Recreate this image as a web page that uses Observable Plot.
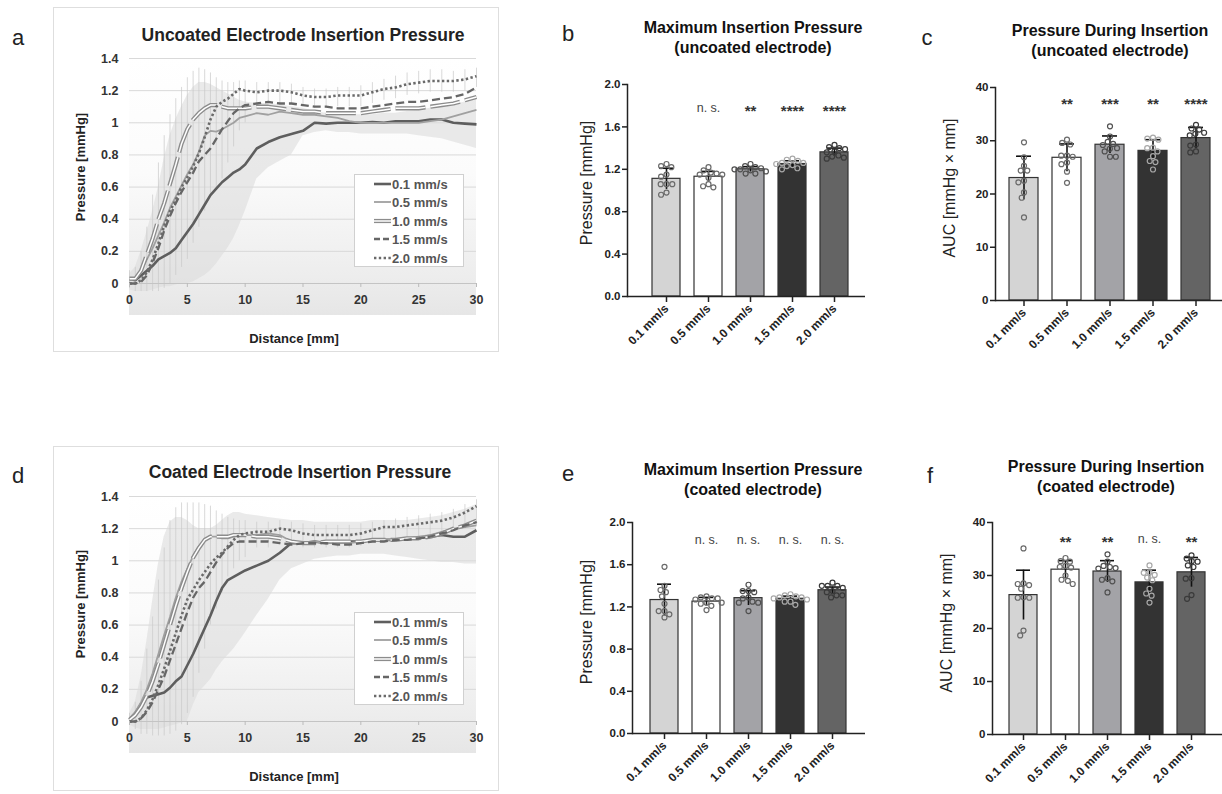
<!DOCTYPE html>
<html><head><meta charset="utf-8">
<script src="https://cdn.jsdelivr.net/npm/d3@7"></script>
<script src="https://cdn.jsdelivr.net/npm/@observablehq/plot@0.6"></script>
<style>
body{margin:0;background:#fff;font-family:"Liberation Sans",Arial,Helvetica,sans-serif;}
#root{position:relative;width:1222px;height:794px;overflow:hidden;background:#fff;}
</style></head><body><div id="root"></div>
<script>
// ---------- DATA ----------
const speeds = ["0.1 mm/s","0.5 mm/s","1.0 mm/s","1.5 mm/s","2.0 mm/s"];
const distance = [0,0.5,1,1.5,2,2.5,3,3.5,4,4.5,5,5.5,6,6.5,7,7.5,8,8.5,9,9.5,10,11,12,13,14,15,16,17,18,19,20,21,22,23,24,25,26,27,28,29,30];
const xTicksLine = [0,5,10,15,20,25,30];
const yTicksLine = [0,0.2,0.4,0.6,0.8,1,1.2,1.4];

// Uncoated electrode (panel a)
const unc01 = [0.03,0.02,0.05,0.08,0.11,0.15,0.17,0.19,0.22,0.27,0.32,0.37,0.43,0.49,0.55,0.59,0.63,0.66,0.69,0.71,0.74,0.84,0.88,0.91,0.93,0.95,1.0,0.995,1.0,1.0,1.0,1.005,1.0,1.01,1.01,1.01,1.02,1.02,1.0,0.995,0.99];
const unc05 = [0.02,0.03,0.08,0.15,0.22,0.30,0.38,0.47,0.54,0.61,0.68,0.74,0.82,0.92,0.95,0.945,0.96,0.98,1.0,1.03,1.04,1.06,1.05,1.07,1.06,1.05,1.05,1.04,1.03,1.01,1.0,1.0,1.0,1.0,1.0,1.0,1.01,1.02,1.04,1.06,1.08];
const unc10 = [0.03,0.03,0.08,0.18,0.28,0.40,0.50,0.62,0.74,0.87,0.96,1.02,1.06,1.09,1.11,1.11,1.10,1.09,1.09,1.09,1.09,1.10,1.10,1.09,1.08,1.07,1.07,1.06,1.06,1.06,1.06,1.07,1.08,1.09,1.09,1.09,1.10,1.11,1.12,1.14,1.16];
const unc15 = [0.0,0.0,0.01,0.05,0.13,0.22,0.33,0.42,0.50,0.57,0.63,0.69,0.76,0.80,0.84,0.90,0.96,1.01,1.06,1.09,1.11,1.12,1.13,1.12,1.12,1.11,1.10,1.10,1.09,1.09,1.09,1.10,1.11,1.12,1.13,1.13,1.14,1.15,1.16,1.18,1.22];
const unc20 = [0.0,0.0,0.02,0.07,0.15,0.25,0.36,0.45,0.52,0.60,0.66,0.73,0.81,0.91,1.02,1.10,1.13,1.15,1.18,1.21,1.20,1.19,1.20,1.20,1.19,1.17,1.16,1.16,1.17,1.17,1.17,1.19,1.21,1.22,1.24,1.25,1.26,1.26,1.26,1.27,1.29];
const uncBandLo = [-0.04,-0.05,-0.05,-0.05,-0.04,-0.03,-0.02,-0.02,-0.01,0.0,0.0,0.01,0.03,0.05,0.08,0.12,0.17,0.22,0.28,0.36,0.45,0.65,0.72,0.76,0.80,0.92,0.94,0.95,0.94,0.94,0.93,0.93,0.93,0.93,0.93,0.92,0.91,0.90,0.88,0.86,0.84];
const uncBandHi = [0.06,0.10,0.20,0.32,0.45,0.60,0.78,0.92,1.02,1.10,1.17,1.22,1.25,1.25,1.24,1.22,1.20,1.18,1.16,1.14,1.13,1.12,1.12,1.11,1.10,1.09,1.07,1.06,1.05,1.05,1.05,1.05,1.06,1.06,1.07,1.08,1.09,1.10,1.11,1.13,1.15];
const uncErrHi = [0.08,0.10,0.20,0.35,0.55,0.75,0.92,1.05,1.15,1.22,1.28,1.32,1.34,1.33,1.31,1.28,1.26,1.25,1.25,1.26,1.26,1.25,1.25,1.25,1.24,1.22,1.21,1.21,1.22,1.22,1.23,1.25,1.27,1.29,1.31,1.32,1.33,1.33,1.32,1.33,1.34];
const uncErrLo = [-0.03,-0.05,-0.05,-0.05,-0.05,-0.05,-0.03,0.0,0.05,0.10,0.15,0.25,0.35,0.45,0.55,0.60,0.65,0.75,0.85,0.95,1.0,1.12,1.12,1.12,1.12,1.10,1.09,1.09,1.10,1.10,1.10,1.12,1.14,1.15,1.17,1.18,1.19,1.19,1.19,1.20,1.22];

// Coated electrode (panel d)
const coa01 = [0.01,0.05,0.11,0.15,0.16,0.17,0.18,0.21,0.25,0.28,0.35,0.42,0.50,0.58,0.66,0.75,0.83,0.88,0.90,0.92,0.94,0.97,1.0,1.05,1.11,1.11,1.12,1.11,1.12,1.12,1.12,1.13,1.13,1.13,1.14,1.14,1.15,1.16,1.15,1.15,1.19];
const coa05 = [0.02,0.06,0.12,0.20,0.30,0.42,0.54,0.65,0.77,0.87,0.95,1.03,1.09,1.13,1.15,1.15,1.14,1.14,1.15,1.16,1.16,1.16,1.17,1.16,1.12,1.11,1.12,1.11,1.11,1.11,1.12,1.13,1.13,1.13,1.14,1.15,1.16,1.18,1.20,1.21,1.22];
const coa10 = [0.01,0.04,0.09,0.16,0.25,0.36,0.48,0.60,0.72,0.83,0.93,1.02,1.08,1.13,1.15,1.15,1.15,1.15,1.16,1.16,1.16,1.15,1.15,1.14,1.12,1.11,1.11,1.12,1.12,1.12,1.12,1.13,1.13,1.13,1.14,1.14,1.15,1.17,1.20,1.22,1.25];
const coa15 = [0.0,0.0,0.02,0.06,0.12,0.20,0.28,0.38,0.48,0.58,0.68,0.77,0.83,0.87,0.93,0.99,1.04,1.08,1.11,1.12,1.12,1.12,1.12,1.11,1.10,1.11,1.11,1.11,1.10,1.10,1.11,1.12,1.12,1.13,1.13,1.14,1.15,1.17,1.19,1.22,1.24];
const coa20 = [0.0,0.0,0.02,0.07,0.14,0.23,0.33,0.44,0.55,0.66,0.76,0.82,0.88,0.93,0.98,1.02,1.05,1.09,1.13,1.16,1.17,1.18,1.18,1.20,1.19,1.17,1.16,1.16,1.16,1.16,1.17,1.19,1.21,1.21,1.22,1.23,1.24,1.25,1.27,1.30,1.34];
const coaBandLo = [-0.02,-0.04,-0.05,-0.05,-0.05,-0.05,-0.04,-0.03,-0.02,-0.01,0.0,0.10,0.18,0.22,0.26,0.32,0.37,0.41,0.45,0.50,0.55,0.66,0.76,0.88,0.95,0.98,1.01,1.02,1.03,1.03,1.04,1.04,1.04,1.03,1.02,1.01,1.0,0.99,0.99,0.98,0.98];
const coaBandHi = [0.05,0.12,0.28,0.50,0.75,0.98,1.15,1.24,1.27,1.27,1.25,1.22,1.20,1.20,1.20,1.22,1.25,1.28,1.30,1.30,1.29,1.28,1.27,1.26,1.25,1.25,1.24,1.24,1.24,1.24,1.24,1.25,1.25,1.25,1.25,1.26,1.27,1.28,1.30,1.32,1.35];
const coaErrHi = [0.05,0.12,0.25,0.45,0.65,0.88,1.08,1.25,1.33,1.36,1.36,1.36,1.36,1.35,1.34,1.31,1.29,1.27,1.26,1.25,1.25,1.24,1.24,1.25,1.24,1.23,1.22,1.22,1.22,1.22,1.23,1.24,1.25,1.26,1.27,1.28,1.29,1.30,1.32,1.35,1.38];
const coaErrLo = [-0.02,-0.05,-0.08,-0.08,-0.09,-0.09,-0.09,-0.08,-0.06,-0.02,0.05,0.15,0.30,0.45,0.60,0.70,0.80,0.90,0.95,1.0,1.02,1.08,1.08,1.10,1.10,1.08,1.08,1.08,1.08,1.08,1.09,1.11,1.12,1.12,1.13,1.14,1.15,1.16,1.18,1.20,1.22];

// Bar panels
const pressureTicks = [0,0.4,0.8,1.2,1.6,2.0];
const aucTicks = [0,10,20,30,40];

const maxUncMean = [1.11,1.13,1.20,1.25,1.36];
const maxUncSD = [0.10,0.05,0.025,0.03,0.04];
const maxUncPts = [
  [1.25,1.23,1.22,1.15,1.13,1.06,1.06,1.06,0.98,0.96],
  [1.22,1.19,1.17,1.16,1.15,1.15,1.12,1.06,1.04,1.03],
  [1.25,1.23,1.22,1.21,1.20,1.20,1.19,1.18,1.16,1.16],
  [1.30,1.29,1.28,1.26,1.26,1.25,1.24,1.23,1.21,1.20],
  [1.43,1.41,1.40,1.39,1.37,1.36,1.33,1.32,1.31,1.30]];
const maxUncSig = ["","n. s.","**","****","****"];

const aucUncMean = [23.0,26.8,29.25,28.1,30.5];
const aucUncSD = [4.1,2.6,1.65,2.1,2.0];
const aucUncPts = [
  [29.7,26.9,25.3,24.4,24.4,22.5,22.2,20.3,19.3,15.6],
  [30.2,29.6,29.3,27.2,27.2,27.0,25.9,25.6,24.2,22.1],
  [32.7,30.8,29.8,29.4,29.2,28.5,28.6,28.0,27.0,27.0],
  [30.6,30.4,30.2,28.7,28.6,28.0,27.1,26.2,26.0,24.6],
  [33.0,32.3,32.1,31.5,31.3,31.0,29.3,29.1,28.0,27.8]];
const aucUncSig = ["","**","***","**","****"];

const maxCoaMean = [1.265,1.25,1.283,1.277,1.358];
const maxCoaSD = [0.15,0.04,0.07,0.025,0.03];
const maxCoaPts = [
  [1.58,1.40,1.36,1.34,1.30,1.23,1.16,1.16,1.13,1.10],
  [1.30,1.29,1.28,1.28,1.27,1.24,1.24,1.23,1.21,1.17],
  [1.41,1.35,1.35,1.34,1.29,1.28,1.25,1.24,1.24,1.16],
  [1.32,1.31,1.30,1.29,1.29,1.28,1.27,1.25,1.25,1.22],
  [1.43,1.40,1.40,1.40,1.38,1.35,1.34,1.31,1.31,1.29]];
const maxCoaSig = ["","n. s.","n. s.","n. s.","n. s."];

const aucCoaMean = [26.3,31.1,30.75,28.7,30.6];
const aucCoaSD = [4.7,1.7,2.05,2.3,2.8];
const aucCoaPts = [
  [35.1,28.5,28.4,28.2,27.5,25.9,25.8,25.8,19.6,18.7],
  [33.3,32.7,32.6,31.8,31.6,31.5,30.0,29.2,29.0,28.4],
  [34.0,32.6,31.8,31.6,31.4,31.3,29.5,29.2,28.9,26.8],
  [31.9,30.6,30.5,30.1,29.6,29.1,27.5,26.6,26.2,24.9],
  [33.8,33.2,32.7,32.6,31.9,31.6,29.5,29.4,26.3,25.6]];
const aucCoaSig = ["","**","**","n. s.","**"];

// ---------- STYLE / LAYOUT ----------
const FONT = '"Liberation Sans", Arial, Helvetica, sans-serif';
const barFill = ["#d4d4d4","#ffffff","#a3a3a7","#333333","#646464"];
const ptStroke = ["#6a6a6a","#6a6a6a","#505050","#a8a8a8","#3a3a3a"];
const root = document.getElementById("root");

function put(el, left, top) {
  el.style.position = "absolute";
  el.style.left = left + "px";
  el.style.top = top + "px";
  root.appendChild(el);
  return el;
}
function label(str, x, y, css, rot) {
  const d = document.createElement("div");
  d.textContent = str;
  d.style.cssText = `position:absolute;left:${x}px;top:${y}px;white-space:nowrap;line-height:1;transform:translate(-50%,-50%)${rot ? " rotate(-90deg)" : ""};font-family:${FONT};` + css;
  root.appendChild(d);
}
function box(left, top, w, h, css) {
  const d = document.createElement("div");
  d.style.cssText = `position:absolute;left:${left}px;top:${top}px;width:${w}px;height:${h}px;box-sizing:border-box;` + css;
  root.appendChild(d);
}

function lineChart(series, bandLo, bandHi, errLo, errHi, left, top, mb) {
  const band = distance.map((x, i) => ({x, lo: bandLo[i], hi: bandHi[i]}));
  const err = distance.map((x, i) => ({x, lo: errLo[i], hi: errHi[i]}));
  const rows = vals => distance.map((x, i) => ({x, y: vals[i]}));
  const [s01, s05, s10, s15, s20] = series.map(rows);
  const dbl = "30,5";
  const L = {x: "x", y: "y", strokeLinecap: "butt", strokeLinejoin: "miter"};
  const p = Plot.plot({
    width: 446, height: 345, marginLeft: 76, marginRight: 23, marginTop: 345 - mb - 225, marginBottom: mb,
    style: {background: "transparent", fontFamily: FONT, color: "#333", overflow: "visible"},
    x: {domain: [0, 30]},
    y: {domain: [0, 1.4]},
    marks: [
      Plot.ruleY(yTicksLine.slice(1), {stroke: "#d9d9d9", strokeWidth: 1}),
      Plot.areaY(band, {x: "x", y1: "lo", y2: "hi", fill: "#dcdcdc", fillOpacity: 0.6}),
      Plot.ruleX(err, {x: "x", y1: "lo", y2: "hi", stroke: "#c8c8c8", strokeWidth: 0.7}),
      Plot.ruleY([0], {stroke: "#c4c4c4"}),
      Plot.lineY(s01, {...L, stroke: "#5e5e5e", strokeWidth: 2.6}),
      Plot.lineY(s05, {...L, stroke: "#a0a0a0", strokeWidth: 1.8}),
      Plot.lineY(s10, {...L, stroke: "#8c8c8c", strokeWidth: 4.2, strokeDasharray: dbl}),
      Plot.lineY(s10, {...L, stroke: "#ffffff", strokeWidth: 1.5, strokeDasharray: dbl}),
      Plot.lineY(s15, {...L, stroke: "#666666", strokeWidth: 2.3, strokeDasharray: "8,4"}),
      Plot.lineY(s20, {...L, stroke: "#6a6a6a", strokeWidth: 2.6, strokeDasharray: "2.4,2.4"}),
      Plot.axisX({ticks: xTicksLine, tickSize: 4, stroke: "#bbbbbb", fill: "#333", tickPadding: 8, fontSize: 12.5, fontWeight: "bold", label: null}),
      Plot.axisY({ticks: yTicksLine, tickSize: 0, tickPadding: 11, tickFormat: d => String(d), fill: "#333", fontSize: 12.5, fontWeight: "bold", label: null})
    ]
  });
  put(p, left, top);
}

function legend(left, top) {
  const d = document.createElement("div");
  d.style.cssText = `position:absolute;left:${left}px;top:${top}px;width:110px;height:93px;box-sizing:border-box;background:#fff;border:1px solid #d0d0d0;`;
  const ys = [9, 27, 46, 64, 83];
  const st = [
    `<line x1="19" x2="36" y1="${ys[0]}" y2="${ys[0]}" stroke="#5e5e5e" stroke-width="2.6"/>`,
    `<line x1="19" x2="36" y1="${ys[1]}" y2="${ys[1]}" stroke="#a0a0a0" stroke-width="1.8"/>`,
    `<line x1="19" x2="36" y1="${ys[2]}" y2="${ys[2]}" stroke="#8c8c8c" stroke-width="4.2"/><line x1="19" x2="36" y1="${ys[2]}" y2="${ys[2]}" stroke="#fff" stroke-width="1.5"/>`,
    `<line x1="19" x2="36" y1="${ys[3]}" y2="${ys[3]}" stroke="#666" stroke-width="2.3" stroke-dasharray="6,3"/>`,
    `<line x1="19" x2="36" y1="${ys[4]}" y2="${ys[4]}" stroke="#6a6a6a" stroke-width="2.6" stroke-dasharray="2.4,2.4"/>`
  ];
  let svg = `<svg width="108" height="91" style="display:block">`;
  speeds.forEach((s, i) => {
    svg += st[i] + `<text x="37" y="${ys[i]}" dy="0.36em" font-family='${FONT}' font-size="13" font-weight="bold" fill="#555">${s}</text>`;
  });
  svg += `</svg>`;
  d.innerHTML = svg;
  root.appendChild(d);
}

function barChart(o) {
  const xOpts = {domain: speeds, paddingInner: 0.337, paddingOuter: o.po, align: o.align};
  const dims = {width: o.w, height: o.h, marginLeft: o.ml, marginRight: o.mr, marginTop: o.mt, marginBottom: o.mb};
  const style = {background: "transparent", fontFamily: FONT, color: "#222", overflow: "visible"};
  const base = Plot.plot({
    ...dims, style,
    x: xOpts,
    y: {domain: o.domain},
    color: {type: "identity"},
    marks: [
      Plot.barY(speeds, {x: d => d, y: (d, i) => o.mean[i], fill: (d, i) => barFill[i], stroke: "#333", strokeWidth: 1.2}),
      Plot.ruleX(speeds, {x: d => d, y1: (d, i) => o.mean[i] - o.sd[i], y2: (d, i) => o.mean[i] + o.sd[i], stroke: "#111", strokeWidth: 1.6}),
      Plot.tickY(speeds, {x: d => d, y: (d, i) => o.mean[i] + o.sd[i], stroke: "#111", strokeWidth: 1.6, insetLeft: 7, insetRight: 7}),
      Plot.text(speeds, {x: d => d, text: (d, i) => o.sig[i], filter: (d, i) => o.sig[i].includes("*"), frameAnchor: "top", dy: o.sigDy + 2, fontSize: 15, fontWeight: "bold", fill: "#333"}),
      Plot.text(speeds, {x: d => d, text: (d, i) => o.sig[i], filter: (d, i) => o.sig[i] === "n. s.", frameAnchor: "top", dy: o.sigDy, fontSize: 12.5, fill: "#444"}),
      Plot.ruleY([o.domain[0]], {stroke: "#222", strokeWidth: 1.5}),
      Plot.frame({anchor: "left", stroke: "#222", strokeWidth: 1.5}),
      Plot.axisY({ticks: o.ticks, tickFormat: o.fmt, tickSize: 5, strokeWidth: 1.5, stroke: "#222", fill: "#222", tickPadding: 2, fontSize: 11.5, fontWeight: "bold", label: null}),
      Plot.axisX({tickRotate: -45, tickSize: 6, strokeWidth: 1.5, stroke: "#222", fill: "#222", tickPadding: 4, fontSize: 12, fontWeight: "bold", label: null})
    ]
  });
  put(base, o.left, o.top);
  const pts = o.pts.flatMap((arr, i) => arr.map(v => ({s: speeds[i], v, c: ptStroke[i]})));
  const over = Plot.plot({
    ...dims, style,
    fx: {...xOpts, axis: null},
    y: {domain: o.domain, axis: null},
    color: {type: "identity"},
    marks: [
      Plot.dot(pts, Plot.dodgeX({anchor: "middle", padding: 0.8}, {fx: "s", y: "v", r: 2.5, stroke: "c", fill: "none", strokeWidth: 1.2}))
    ]
  });
  put(over, o.left, o.top);
}

// ---------- PANEL a ----------
box(53, 7, 446, 345, "border:1px solid #dedede;background:#fff;");
box(129, 58, 347, 257, "background:linear-gradient(#ffffff 0%,#fbfbfb 45%,#ededed 85%,#e6e6e6 100%);");
lineChart([unc01, unc05, unc10, unc15, unc20], uncBandLo, uncBandHi, uncErrLo, uncErrHi, 53, 7, 69);
legend(354, 174);
label("Uncoated Electrode Insertion Pressure", 303, 36, "font-size:17.5px;font-weight:bold;color:#222;");
label("Pressure [mmHg]", 80, 167, "font-size:13px;font-weight:bold;color:#222;", true);
label("Distance [mm]", 294, 338, "font-size:13px;font-weight:bold;color:#222;");

// ---------- PANEL d ----------
box(53, 446, 446, 345, "border:1px solid #dedede;background:#fff;");
box(129, 496, 347, 257, "background:linear-gradient(#ffffff 0%,#fbfbfb 45%,#ededed 85%,#e6e6e6 100%);");
lineChart([coa01, coa05, coa10, coa15, coa20], coaBandLo, coaBandHi, coaErrLo, coaErrHi, 53, 446, 70);
legend(354, 612);
label("Coated Electrode Insertion Pressure", 300, 473, "font-size:17.5px;font-weight:bold;color:#222;");
label("Pressure [mmHg]", 80, 604, "font-size:13px;font-weight:bold;color:#222;", true);
label("Distance [mm]", 294, 776, "font-size:13px;font-weight:bold;color:#222;");

// ---------- PANELS b, c, e, f ----------
barChart({left: 540, top: 64, w: 340, h: 300, ml: 87, mr: 15, mt: 20, mb: 68, po: 0.436, align: 0.587,
  domain: [0, 2], ticks: pressureTicks, fmt: d3.format(".1f"), mean: maxUncMean, sd: maxUncSD, pts: maxUncPts, sig: maxUncSig, sigDy: 19});
barChart({left: 880, top: 66, w: 342, h: 300, ml: 115, mr: 0, mt: 21, mb: 66, po: 0.308, align: 0.53,
  domain: [0, 40], ticks: aucTicks, fmt: d => String(d), mean: aucUncMean, sd: aucUncSD, pts: aucUncPts, sig: aucUncSig, sigDy: 9});
barChart({left: 540, top: 502, w: 340, h: 300, ml: 92, mr: 15, mt: 20, mb: 69, po: 0.378, align: 0.49,
  domain: [0, 2], ticks: pressureTicks, fmt: d3.format(".1f"), mean: maxCoaMean, sd: maxCoaSD, pts: maxCoaPts, sig: maxCoaSig, sigDy: 13});
barChart({left: 880, top: 502, w: 342, h: 300, ml: 112, mr: 0, mt: 20, mb: 68, po: 0.343, align: 0.51,
  domain: [0, 40], ticks: aucTicks, fmt: d => String(d), mean: aucCoaMean, sd: aucCoaSD, pts: aucCoaPts, sig: aucCoaSig, sigDy: 12});

const tl = "font-size:16px;font-weight:bold;color:#111;";
label("Maximum Insertion Pressure", 753, 28, tl);
label("(uncoated electrode)", 753, 48, tl);
label("Pressure During Insertion", 1110, 31, tl);
label("(uncoated electrode)", 1110, 51, tl);
label("Maximum Insertion Pressure", 753, 470, tl);
label("(coated electrode)", 753, 490, tl);
label("Pressure During Insertion", 1106, 467, tl);
label("(coated electrode)", 1106, 487, tl);

const yl = "font-size:16px;color:#222;";
label("Pressure [mmHg]", 587, 183, yl, true);
label("AUC [mmHg × mm]", 950, 188, yl, true);
label("Pressure [mmHg]", 587, 622, yl, true);
label("AUC [mmHg × mm]", 947, 623, yl, true);

// panel letters
const lt = "font-size:22px;color:#222;";
label("a", 18, 38, lt);
label("b", 568, 34, lt);
label("c", 927, 38, lt);
label("d", 18, 476, lt);
label("e", 568, 474, lt);
label("f", 930, 476, lt);
</script></body></html>
